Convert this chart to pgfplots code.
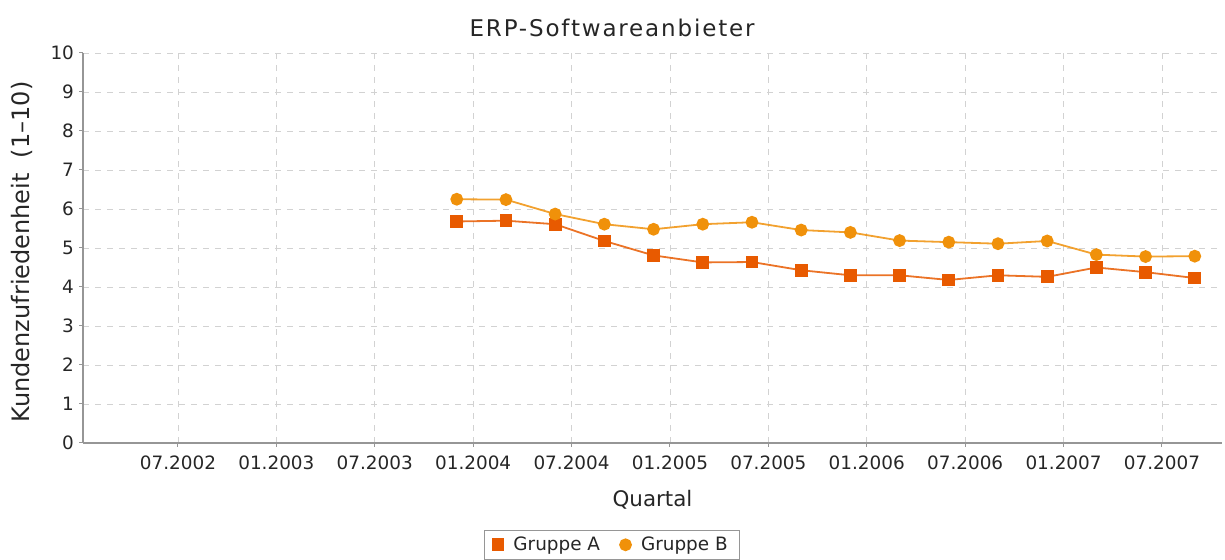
\documentclass[border=0pt]{standalone}
\usepackage{pgfplots}
\pgfplotsset{compat=1.18}
\usepackage{fontspec}
\setmainfont{DejaVu Sans}
\definecolor{grpA}{RGB}{232,90,0}
\definecolor{grpB}{RGB}{240,145,10}
\definecolor{axgray}{RGB}{150,150,150}
\definecolor{gridgray}{RGB}{210,210,210}
\begin{document}
\begin{tikzpicture}
\path[use as bounding box] (0,0) rectangle (612.5pt,280pt);
\begin{axis}[
  at={(41.5pt,58.5pt)}, anchor=south west,
  scale only axis, width=569.5pt, height=195pt,
  xmin=-5.79, xmax=63.66, ymin=0, ymax=10,
  xtick={0,6,...,60},
  xticklabels={07.2002,01.2003,07.2003,01.2004,07.2004,01.2005,07.2005,01.2006,07.2006,01.2007,07.2007},
  ytick={0,1,...,10},
  axis x line*=bottom, axis y line*=left,
  axis line style={axgray, line width=0.6pt, -},
  tick align=outside, major tick length=2pt,
  tick style={axgray, line width=0.5pt},
  grid=major, grid style={gridgray, dashed, line width=0.4pt},
  /pgf/number format/assume math mode=true,
  tick label style={font=\fontsize{9.2}{11}\selectfont, text=black!85},
  xticklabel style={yshift=-1pt},
  yticklabel style={xshift=1pt},
  xlabel={Quartal}, ylabel={Kundenzufriedenheit\ \ (1--10)},
  xlabel style={font=\fontsize{10.7}{12}\selectfont, text=black!85, at={(axis description cs:0.5,-0.146)}, anchor=center},
  ylabel style={font=\fontsize{12}{14}\selectfont, text=black!85, at={(axis description cs:-0.0536,0.49)}, anchor=center},
  title={\addfontfeature{LetterSpace=8}ERP-Softwareanbieter},
  title style={font=\fontsize{11.5}{13}\selectfont, text=black!85, at={(axis description cs:0.4645,1.0)}, anchor=center, yshift=6.5pt},
  legend style={at={(axis description cs:0.4645,-0.223)}, anchor=north, draw=axgray, line width=0.5pt,
     font=\fontsize{9.2}{11}\selectfont, text=black!85, legend columns=-1, inner xsep=4pt, inner ysep=1pt,
     /tikz/every even column/.append style={column sep=8pt},
     /tikz/every odd column/.append style={column sep=3pt}},
  legend image code/.code={\draw[#1, draw opacity=0] plot coordinates {(0.2cm,0cm)};},
]
\addplot[color=grpA, line width=0.9pt, opacity=0.85, mark=square*, mark size=2.75pt, mark options={fill=grpA, draw=grpA, opacity=1}]
coordinates {(17,5.68)(20,5.70)(23,5.61)(26,5.18)(29,4.81)(32,4.63)(35,4.64)(38,4.43)(41,4.30)(44,4.30)(47,4.18)(50,4.30)(53,4.26)(56,4.50)(59,4.38)(62,4.23)};
\addlegendentry{Gruppe A}
\addplot[color=grpB, line width=0.9pt, opacity=0.85, mark=*, mark size=2.75pt, mark options={fill=grpB, draw=grpB, opacity=1}]
coordinates {(17,6.25)(20,6.24)(23,5.87)(26,5.61)(29,5.48)(32,5.61)(35,5.66)(38,5.46)(41,5.40)(44,5.19)(47,5.15)(50,5.11)(53,5.18)(56,4.83)(59,4.78)(62,4.79)};
\addlegendentry{Gruppe B}
\end{axis}
\end{tikzpicture}
\end{document}
